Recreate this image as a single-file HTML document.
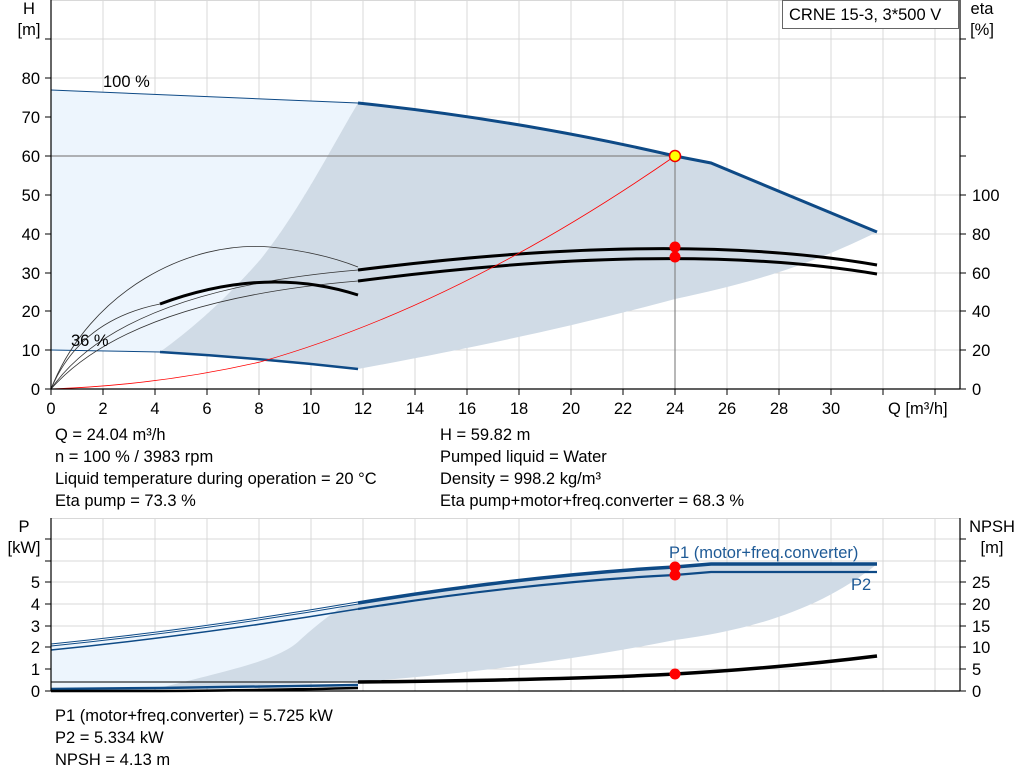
<!DOCTYPE html>
<html><head><meta charset="utf-8"><style>
body{margin:0;background:#fff}
svg{display:block;font-family:"Liberation Sans",sans-serif}
</style></head><body>
<svg width="1024" height="781" viewBox="0 0 1024 781">
<g stroke="#d8d8d8" stroke-width="1">
<line x1="51" y1="39" x2="960" y2="39"/><line x1="51" y1="78" x2="960" y2="78"/><line x1="51" y1="117" x2="960" y2="117"/>
<line x1="51" y1="195" x2="960" y2="195"/><line x1="51" y1="234" x2="960" y2="234"/><line x1="51" y1="273" x2="960" y2="273"/>
<line x1="51" y1="311" x2="960" y2="311"/><line x1="51" y1="350" x2="960" y2="350"/>
<line x1="103" y1="0" x2="103" y2="389"/><line x1="155" y1="0" x2="155" y2="389"/><line x1="207" y1="0" x2="207" y2="389"/>
<line x1="259" y1="0" x2="259" y2="389"/><line x1="311" y1="0" x2="311" y2="389"/><line x1="363" y1="0" x2="363" y2="389"/>
<line x1="415" y1="0" x2="415" y2="389"/><line x1="467" y1="0" x2="467" y2="389"/><line x1="519" y1="0" x2="519" y2="389"/>
<line x1="571" y1="0" x2="571" y2="389"/><line x1="623" y1="0" x2="623" y2="389"/><line x1="675" y1="0" x2="675" y2="389"/>
<line x1="727" y1="0" x2="727" y2="389"/><line x1="779" y1="0" x2="779" y2="389"/><line x1="831" y1="0" x2="831" y2="389"/>
<line x1="883" y1="0" x2="883" y2="389"/><line x1="935" y1="0" x2="935" y2="389"/>
<line x1="51" y1="0.5" x2="960" y2="0.5"/>
</g>
<path d="M51,90 L358,103 C330,150 300,210 260,260 C220,305 190,330 160,352 L51,350 Z" fill="#edf5fd"/>
<path d="M358,103 Q520,120 675,156 L711,163 L877,232 C800,270 740,285 675,299 C560,330 460,350 358,369 L160,352 C190,330 220,305 260,260 C300,210 330,150 358,103 Z" fill="#d0dbe6"/>
<line x1="51" y1="156" x2="675" y2="156" stroke="#888" stroke-width="1.2"/>
<line x1="675" y1="156" x2="675" y2="389" stroke="#888" stroke-width="1.2"/>
<path d="M51,90 L358,103" stroke="#0e4a86" stroke-width="1" fill="none"/>
<path d="M358,103 Q520,120 675,156 L711,163 L877,232" stroke="#0e4a86" stroke-width="3" fill="none"/>
<path d="M51,350 L160,352" stroke="#0e4a86" stroke-width="1" fill="none"/>
<path d="M160,352 Q260,358 358,369" stroke="#0e4a86" stroke-width="2.5" fill="none"/>
<g stroke="#333" stroke-width="0.8" fill="none">
<path d="M51,389 C90,290 190,240 270,247 Q320,252 358,267"/>
<path d="M51,389 Q80,320 160,304"/>
<path d="M51,389 Q120,290 358,270"/>
<path d="M51,389 Q130,300 358,281"/>
</g>
<g stroke="#000" stroke-width="3" fill="none">
<path d="M160,304 Q265,265 358,295"/>
<path d="M358,270 Q675,230 877,265"/>
<path d="M358,281 Q675,240 877,274"/>
</g>
<path d="M51,389 Q160,385 260,362 Q460,305 675,156" stroke="#f00" stroke-width="0.8" fill="none"/>
<circle cx="675" cy="156" r="5.5" fill="#ff0" stroke="#e00" stroke-width="1.5"/>
<circle cx="675" cy="247" r="5.5" fill="#f00"/><circle cx="675" cy="257" r="5.5" fill="#f00"/>
<g stroke="#000" stroke-width="1.2">
<line x1="51" y1="0" x2="51" y2="389"/><line x1="960" y1="0" x2="960" y2="389"/><line x1="51" y1="389" x2="960" y2="389"/>
</g>
<g stroke="#000" stroke-width="1">
<line x1="45" y1="389" x2="51" y2="389"/><line x1="45" y1="350" x2="51" y2="350"/><line x1="45" y1="311" x2="51" y2="311"/><line x1="45" y1="273" x2="51" y2="273"/><line x1="45" y1="234" x2="51" y2="234"/><line x1="45" y1="195" x2="51" y2="195"/><line x1="45" y1="156" x2="51" y2="156"/><line x1="45" y1="117" x2="51" y2="117"/><line x1="45" y1="78" x2="51" y2="78"/><line x1="45" y1="39" x2="51" y2="39"/>
<line x1="960" y1="389" x2="966" y2="389"/><line x1="960" y1="350" x2="966" y2="350"/><line x1="960" y1="311" x2="966" y2="311"/><line x1="960" y1="273" x2="966" y2="273"/><line x1="960" y1="234" x2="966" y2="234"/><line x1="960" y1="195" x2="966" y2="195"/><line x1="960" y1="156" x2="966" y2="156"/><line x1="960" y1="117" x2="966" y2="117"/><line x1="960" y1="78" x2="966" y2="78"/><line x1="960" y1="39" x2="966" y2="39"/>
<line x1="51" y1="389" x2="51" y2="395"/><line x1="103" y1="389" x2="103" y2="395"/><line x1="155" y1="389" x2="155" y2="395"/><line x1="207" y1="389" x2="207" y2="395"/><line x1="259" y1="389" x2="259" y2="395"/><line x1="311" y1="389" x2="311" y2="395"/><line x1="363" y1="389" x2="363" y2="395"/><line x1="415" y1="389" x2="415" y2="395"/><line x1="467" y1="389" x2="467" y2="395"/><line x1="519" y1="389" x2="519" y2="395"/><line x1="571" y1="389" x2="571" y2="395"/><line x1="623" y1="389" x2="623" y2="395"/><line x1="675" y1="389" x2="675" y2="395"/><line x1="727" y1="389" x2="727" y2="395"/><line x1="779" y1="389" x2="779" y2="395"/><line x1="831" y1="389" x2="831" y2="395"/><line x1="883" y1="389" x2="883" y2="395"/><line x1="935" y1="389" x2="935" y2="395"/>
</g>
<g font-size="16.5" fill="#000">
<text x="29" y="14" text-anchor="middle">H</text><text x="29" y="35" text-anchor="middle">[m]</text>
<text x="982" y="14" text-anchor="middle">eta</text><text x="982" y="35" text-anchor="middle">[%]</text>
<g text-anchor="end">
<text x="40" y="395">0</text><text x="40" y="356">10</text><text x="40" y="317">20</text><text x="40" y="279">30</text><text x="40" y="240">40</text><text x="40" y="201">50</text><text x="40" y="162">60</text><text x="40" y="123">70</text><text x="40" y="84">80</text>
</g>
<text x="972" y="395">0</text><text x="972" y="356">20</text><text x="972" y="317">40</text><text x="972" y="279">60</text><text x="972" y="240">80</text><text x="972" y="201">100</text>
<g text-anchor="middle">
<text x="51" y="414">0</text><text x="103" y="414">2</text><text x="155" y="414">4</text><text x="207" y="414">6</text><text x="259" y="414">8</text><text x="311" y="414">10</text><text x="363" y="414">12</text><text x="415" y="414">14</text><text x="467" y="414">16</text><text x="519" y="414">18</text><text x="571" y="414">20</text><text x="623" y="414">22</text><text x="675" y="414">24</text><text x="727" y="414">26</text><text x="779" y="414">28</text><text x="831" y="414">30</text>
</g>
<text x="888" y="414">Q [m³/h]</text>
<text x="103" y="87">100 %</text><text x="71" y="346">36 %</text>
<text x="55" y="440">Q = 24.04 m³/h</text><text x="55" y="462">n = 100 % / 3983 rpm</text><text x="55" y="484">Liquid temperature during operation = 20 °C</text><text x="55" y="506">Eta pump = 73.3 %</text>
<text x="440" y="440">H = 59.82 m</text><text x="440" y="462">Pumped liquid = Water</text><text x="440" y="484">Density = 998.2 kg/m³</text><text x="440" y="506">Eta pump+motor+freq.converter = 68.3 %</text>
</g>
<rect x="782.5" y="0.5" width="176" height="28" fill="#fff" stroke="#666"/>
<text x="789" y="20" font-size="16.5">CRNE 15-3, 3*500 V</text>

<g stroke="#d8d8d8" stroke-width="1">
<line x1="51" y1="518.5" x2="960" y2="518.5"/><line x1="51" y1="539" x2="960" y2="539"/><line x1="51" y1="561" x2="960" y2="561"/><line x1="51" y1="582" x2="960" y2="582"/><line x1="51" y1="604" x2="960" y2="604"/><line x1="51" y1="626" x2="960" y2="626"/><line x1="51" y1="647" x2="960" y2="647"/><line x1="51" y1="669" x2="960" y2="669"/>
<line x1="103" y1="518" x2="103" y2="691"/><line x1="155" y1="518" x2="155" y2="691"/><line x1="207" y1="518" x2="207" y2="691"/><line x1="259" y1="518" x2="259" y2="691"/><line x1="311" y1="518" x2="311" y2="691"/><line x1="363" y1="518" x2="363" y2="691"/><line x1="415" y1="518" x2="415" y2="691"/><line x1="467" y1="518" x2="467" y2="691"/><line x1="519" y1="518" x2="519" y2="691"/><line x1="571" y1="518" x2="571" y2="691"/><line x1="623" y1="518" x2="623" y2="691"/><line x1="675" y1="518" x2="675" y2="691"/><line x1="727" y1="518" x2="727" y2="691"/><line x1="779" y1="518" x2="779" y2="691"/><line x1="831" y1="518" x2="831" y2="691"/><line x1="883" y1="518" x2="883" y2="691"/><line x1="935" y1="518" x2="935" y2="691"/>
</g>
<path d="M51,645 Q200,625 345,605 C325,640 300,660 260,672 C200,688 150,690 51,691 Z" fill="#edf5fd"/>
<path d="M345,605 Q520,575 711,564 L877,564 C820,610 750,630 675,640 C560,663 450,675 358,682 L160,688 C230,670 280,660 300,640 C320,622 330,615 345,605 Z" fill="#d0dbe6"/>
<path d="M51,645 Q200,630 358,603" stroke="#0e4a86" stroke-width="3" fill="none"/>
<path d="M51,645 Q200,630 358,603" stroke="#fff" stroke-width="1" fill="none"/>
<path d="M51,650 Q200,635 358,609" stroke="#0e4a86" stroke-width="1.5" fill="none"/>
<path d="M358,603 Q530,575 675,567 L711,564 L877,564" stroke="#0e4a86" stroke-width="3.5" fill="none"/>
<path d="M358,609 Q530,582 675,575 L711,572 L877,572" stroke="#0e4a86" stroke-width="2.2" fill="none"/>
<line x1="51" y1="682" x2="358" y2="682" stroke="#000" stroke-width="1"/>
<path d="M51,689 L160,688 L358,685" stroke="#0e4a86" stroke-width="2.5" fill="none"/>
<path d="M51,691 L160,691 Q280,690 358,688" stroke="#000" stroke-width="2.5" fill="none"/>
<path d="M358,682 Q560,680 675,674 Q780,668 877,656" stroke="#000" stroke-width="3.5" fill="none"/>
<circle cx="675" cy="567" r="5.5" fill="#f00"/><circle cx="675" cy="575" r="5.5" fill="#f00"/><circle cx="675" cy="674" r="5.5" fill="#f00"/>
<g stroke="#000" stroke-width="1.2">
<line x1="51" y1="518" x2="51" y2="691"/><line x1="960" y1="518" x2="960" y2="691"/><line x1="51" y1="691" x2="960" y2="691"/>
</g>
<g stroke="#000" stroke-width="1">
<line x1="45" y1="691" x2="51" y2="691"/><line x1="45" y1="669" x2="51" y2="669"/><line x1="45" y1="647" x2="51" y2="647"/><line x1="45" y1="626" x2="51" y2="626"/><line x1="45" y1="604" x2="51" y2="604"/><line x1="45" y1="582" x2="51" y2="582"/><line x1="45" y1="561" x2="51" y2="561"/><line x1="45" y1="539" x2="51" y2="539"/>
<line x1="960" y1="691" x2="966" y2="691"/><line x1="960" y1="669" x2="966" y2="669"/><line x1="960" y1="647" x2="966" y2="647"/><line x1="960" y1="626" x2="966" y2="626"/><line x1="960" y1="604" x2="966" y2="604"/><line x1="960" y1="582" x2="966" y2="582"/><line x1="960" y1="561" x2="966" y2="561"/><line x1="960" y1="539" x2="966" y2="539"/>
</g>
<g font-size="16.5" fill="#000">
<text x="24" y="532" text-anchor="middle">P</text><text x="24" y="553" text-anchor="middle">[kW]</text>
<text x="992" y="532" text-anchor="middle">NPSH</text><text x="992" y="553" text-anchor="middle">[m]</text>
<g text-anchor="end">
<text x="40" y="697">0</text><text x="40" y="675">1</text><text x="40" y="653">2</text><text x="40" y="632">3</text><text x="40" y="610">4</text><text x="40" y="588">5</text>
</g>
<text x="972" y="697">0</text><text x="972" y="675">5</text><text x="972" y="653">10</text><text x="972" y="632">15</text><text x="972" y="610">20</text><text x="972" y="588">25</text>
<text x="669" y="558" fill="#1e5a96">P1 (motor+freq.converter)</text>
<text x="851" y="590" fill="#1e5a96">P2</text>
<text x="55" y="721">P1 (motor+freq.converter) = 5.725 kW</text>
<text x="55" y="743">P2 = 5.334 kW</text>
<text x="55" y="765">NPSH = 4.13 m</text>
</g>
</svg>
</body></html>
